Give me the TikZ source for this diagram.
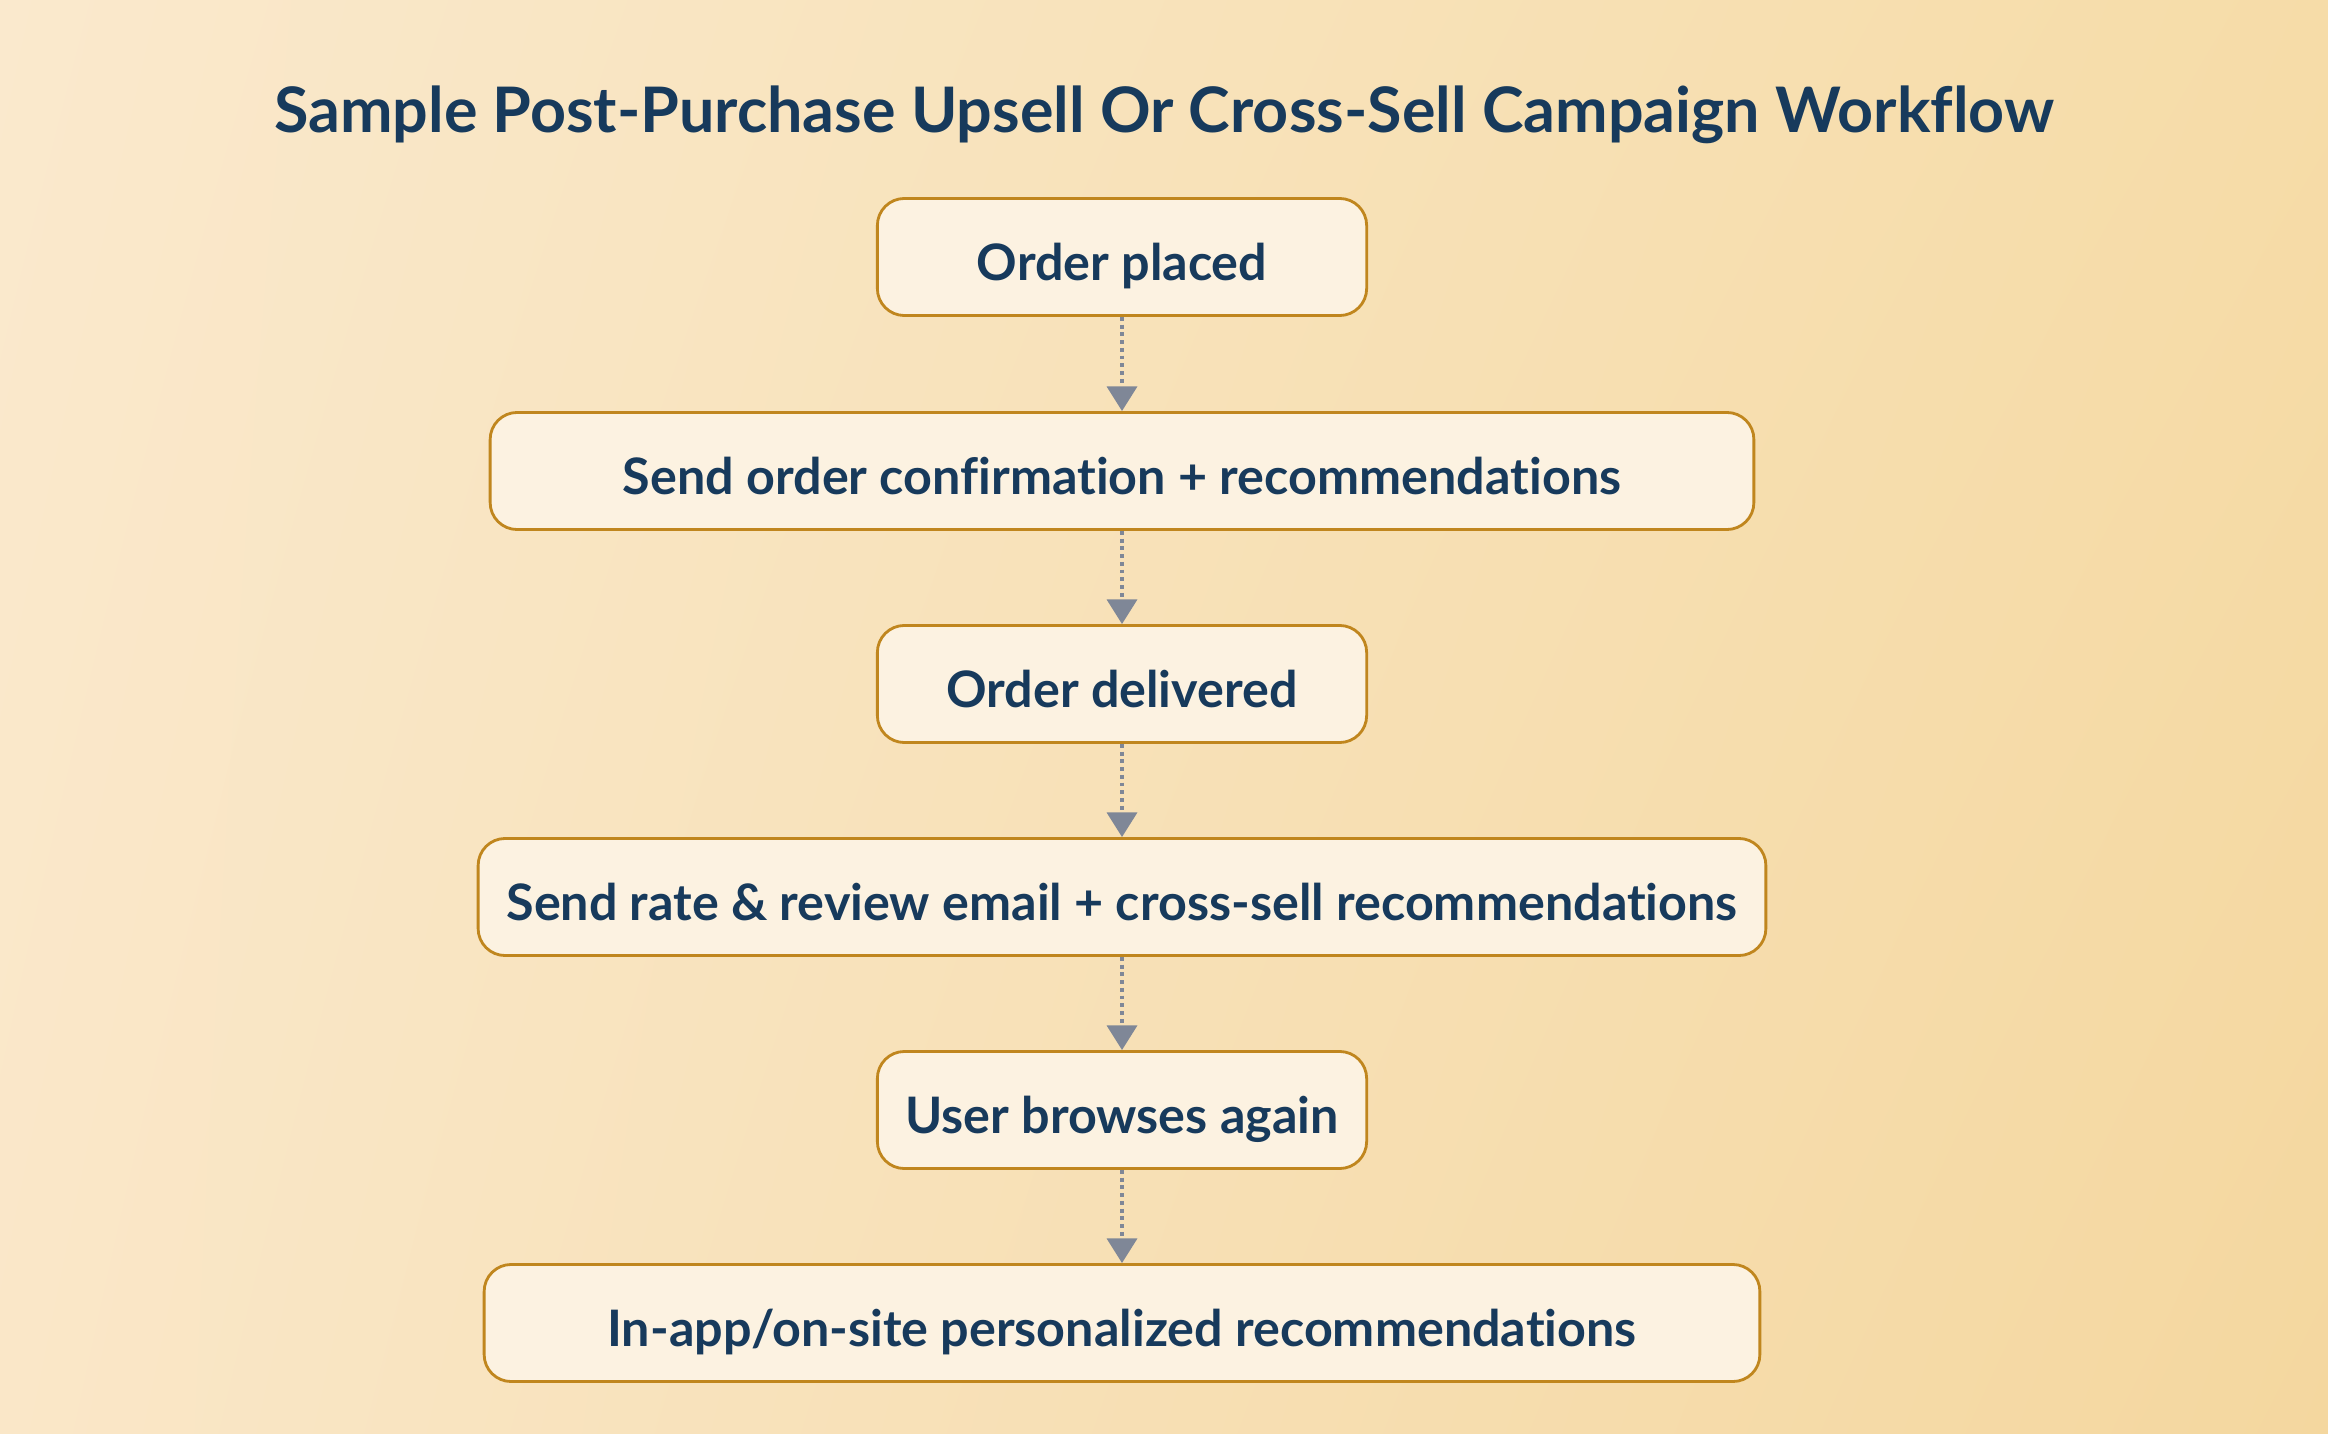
\documentclass[tikz,border=0pt]{standalone}
\usepackage{fontspec}
\setmainfont{Lato}[Ligatures=NoCommon]
\usetikzlibrary{arrows.meta,shadings}
\definecolor{navy}{HTML}{173A5C}
\definecolor{boxline}{HTML}{C0861E}
\definecolor{boxfill}{HTML}{FCF2E1}
\definecolor{arrowgray}{HTML}{7F8797}
\definecolor{bgtl}{HTML}{FAE9CD}
\definecolor{bgtr}{HTML}{F6DCA8}
\definecolor{bgbl}{HTML}{FAE7C8}
\definecolor{bgbr}{HTML}{F4D79F}

\begin{document}
\begin{tikzpicture}[x=0.01cm, y=-0.01cm,
	stepbox/.style={draw=boxline, fill=boxfill, line width=0.8pt, rounded corners=0.27cm,
		minimum height=1.17cm, inner sep=0pt, text height=13.5pt, text depth=0pt,
		text=navy, font=\fontsize{14.3}{16}\selectfont\bfseries},
	flow/.style={draw=arrowgray, line width=1.1pt, dash pattern=on 1.1pt off 1.1pt,
		-{Triangle[width=8.5pt,length=7pt]}}]
				\shade[upper left=bgtl, upper right=bgtr, lower left=bgbl, lower right=bgbr]
					(0,0) rectangle (2328,1434);
				\useasboundingbox (0,0) rectangle (2328,1434);

				\node[anchor=base, text=navy, font=\fontsize{17.85}{22}\selectfont\bfseries] (title) at (1164,133)
					{Sample Post-Purchase Upsell Or Cross-Sell Campaign Workflow};

				\node[stepbox, minimum width=4.89cm] (placed) at (1122,257) {Order placed};
				\node[stepbox, minimum width=12.63cm] (confirm) at (1122,471) {Send order confirmation + recommendations};
				\node[stepbox, minimum width=4.89cm] (delivered) at (1122,684) {Order delivered};
				\node[stepbox, minimum width=12.87cm] (review) at (1122,897) {Send rate \& review email + cross-sell recommendations};
				\node[stepbox, minimum width=4.89cm] (browse) at (1122,1110) {User browses again};
				\node[stepbox, minimum width=12.75cm] (onsite) at (1122,1323) {In-app/on-site personalized recommendations};

				\draw[flow] (placed) to (confirm);
				\draw[flow] (confirm) to (delivered);
				\draw[flow] (delivered) to (review);
				\draw[flow] (review) to (browse);
				\draw[flow] (browse) to (onsite);

			\end{tikzpicture}
\end{document}
